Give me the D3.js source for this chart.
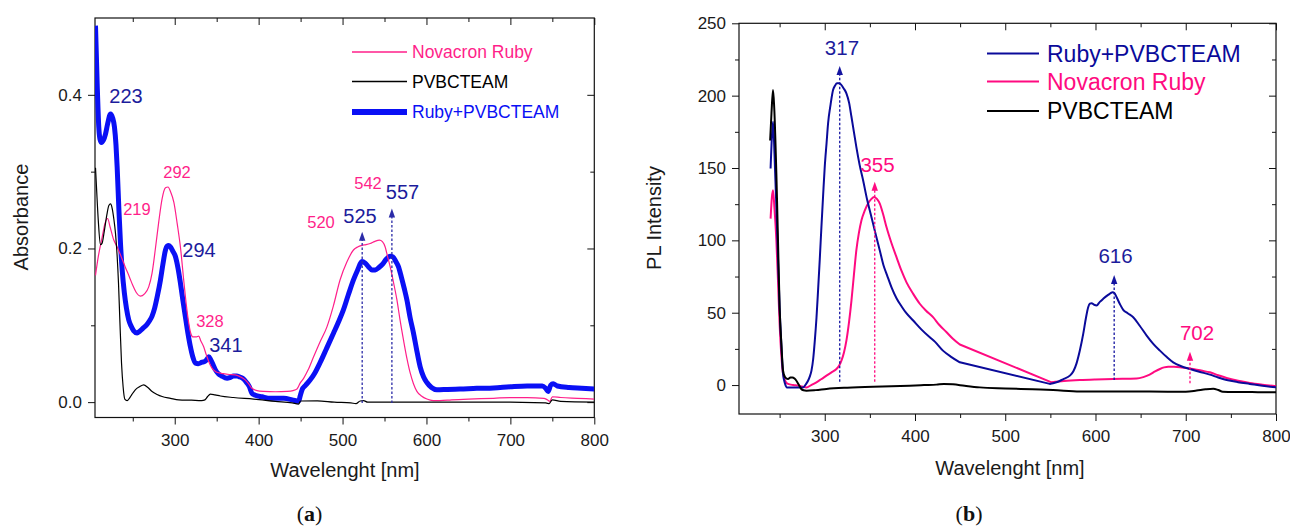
<!DOCTYPE html>
<html>
<head>
<meta charset="utf-8">
<script src="https://cdn.jsdelivr.net/npm/d3@7/dist/d3.min.js"></script>
<style>
  body { margin: 0; background: #fff; }
  svg { display: block; }
  text { font-family: "Liberation Sans", Arial, sans-serif; }
</style>
</head>
<body>
<svg id="chart" width="1290" height="528"></svg>
<script>
const svg = d3.select("#chart")

// ---- data: [wavelength nm, value] ----
// (a) absorbance
const absRuby = [[205.6,0.165],[209,0.19],[213.6,0.215],[217,0.233],[220,0.239],[223,0.228],[227.4,0.211],[231.4,0.202],[236,0.19],[241,0.176],[246,0.163],[250,0.152],[254,0.143],[259,0.138],[264,0.141],[269,0.15],[273,0.168],[277,0.2],[281,0.235],[285,0.265],[289,0.279],[292,0.28],[295,0.274],[299,0.26],[303,0.232],[307,0.2],[310.7,0.159],[314,0.125],[316.7,0.103],[319,0.09],[321.5,0.085],[326,0.085],[328.6,0.086],[331,0.08],[334.5,0.072],[337.5,0.062],[340.5,0.053],[344,0.045],[348.5,0.04],[353,0.038],[358,0.037],[365,0.036],[372,0.0355],[378,0.033],[384,0.029],[388,0.024],[392,0.018],[398,0.015],[406,0.014],[420,0.0135],[434,0.014],[441,0.015],[445.7,0.017],[449.6,0.025],[453.6,0.031],[459,0.042],[465.5,0.059],[473,0.078],[481.4,0.098],[489,0.125],[497,0.159],[505,0.182],[513,0.198],[518,0.202],[523,0.204],[528,0.205],[533,0.2065],[538,0.209],[544,0.211],[547.5,0.209],[550.8,0.202],[553.5,0.19],[556.8,0.176],[560.5,0.157],[564.8,0.133],[568.5,0.107],[572.6,0.081],[576.5,0.058],[580.6,0.038],[584.5,0.024],[588.6,0.014],[594,0.008],[600.5,0.004],[608,0.002],[616,0.002],[630,0.003],[650,0.004],[680,0.005],[700,0.006],[720,0.006],[740,0.005],[744,0.003],[747,0.001],[750,0.007],[760,0.006],[780,0.005],[800,0.004]]
const absPvb = [[205.6,0.305],[207,0.275],[209,0.235],[211.5,0.205],[213.5,0.207],[216,0.222],[219,0.243],[221.5,0.256],[223.5,0.258],[225.5,0.252],[227.5,0.238],[229.4,0.22],[231.4,0.19],[233,0.155],[234.5,0.11],[236.6,0.051],[238.5,0.02],[240.5,0.004],[243.3,0.002],[246,0.005],[249,0.01],[253,0.016],[258,0.02],[263,0.0225],[268,0.019],[273,0.0138],[279,0.01],[285,0.0073],[295,0.005],[304.8,0.003],[320,0.0025],[332,0.002],[336,0.003],[339,0.007],[342.5,0.0105],[348,0.0095],[354.4,0.008],[370,0.006],[394,0.004],[420,0.001],[440,-0.001],[447.6,-0.0026],[450,0.0015],[470,0.0017],[490,0.0],[510,-0.001],[516,-0.002],[521,0.0015],[525,0.002],[530,0.0],[560,0.0],[600,0.0],[650,0.0],[700,0.0],[742,-0.001],[746,-0.002],[750,0.003],[760,0.001],[800,0.0]]
const absMix = [[205.6,0.49],[207.6,0.414],[209.5,0.358],[211,0.342],[212.7,0.338],[215,0.341],[217.5,0.349],[220,0.362],[223.5,0.375],[226,0.37],[228.2,0.358],[230,0.335],[231.4,0.306],[233.5,0.25],[235.4,0.206],[237.4,0.172],[240,0.142],[242.5,0.122],[245.2,0.107],[248,0.099],[251,0.093],[255.2,0.09],[258,0.092],[262,0.096],[266,0.1],[270,0.106],[273,0.112],[276,0.122],[279.5,0.139],[283,0.159],[286,0.18],[289,0.198],[291,0.203],[293,0.204],[295.5,0.201],[298,0.196],[301,0.189],[304,0.174],[306.8,0.155],[309.8,0.132],[312.7,0.111],[315.7,0.09],[318.7,0.072],[321.5,0.059],[324.6,0.051],[328,0.05],[332.6,0.052],[336,0.053],[338.5,0.056],[340.5,0.059],[343,0.055],[346,0.048],[348.5,0.042],[352,0.037],[356,0.034],[362.4,0.031],[366,0.032],[370,0.034],[374,0.034],[377,0.033],[381,0.031],[386,0.025],[389,0.02],[392,0.0115],[396,0.009],[404,0.007],[414,0.005],[430,0.005],[440,0.003],[447.6,0.001],[449.5,0.008],[451.7,0.016],[456,0.022],[461.5,0.029],[467,0.038],[473.5,0.052],[481,0.07],[489.3,0.09],[495,0.104],[501,0.12],[507,0.14],[513,0.159],[518,0.172],[523,0.183],[527,0.181],[531,0.176],[535,0.172],[539,0.172],[543,0.175],[548,0.18],[552,0.186],[556.8,0.19],[560,0.189],[563.5,0.183],[566.7,0.176],[570,0.163],[573.5,0.148],[576.7,0.133],[580.5,0.11],[584.5,0.09],[588.5,0.067],[592.5,0.046],[596.5,0.033],[600.5,0.0255],[606,0.019],[612.4,0.016],[625,0.0165],[640,0.017],[660,0.018],[680,0.0185],[700,0.02],[720,0.021],[738,0.021],[742,0.018],[745,0.014],[748,0.022],[751,0.024],[756,0.021],[770,0.019],[785,0.018],[800,0.017]]

// (b) photoluminescence
const plMix = [[240,149.6],[241.5,172],[242.7,182],[244.3,160],[246.4,123],[248.2,88],[250,53.8],[252,27],[253.8,7.7],[256,1],[258.2,-1.6],[266,-1.6],[276,-1.6],[279,0.5],[281.5,3],[283.5,6],[285.3,10],[287.2,18],[289,30.7],[290.8,46],[292.6,65.4],[294.5,87],[296.3,109],[298.2,131],[300,150.8],[302,167],[303.7,180.8],[306.5,194],[309.2,203.9],[311.5,207],[313.6,208.5],[316,208.5],[318.5,207.3],[321,205],[324,201.6],[327,195],[329.6,185.4],[332.3,175],[335,164.6],[338.7,152],[342.5,141.5],[347,128],[351.8,116],[356.5,104],[361,93],[365,83],[369,76],[374,67.5],[379.5,60],[385,54.5],[390,50],[398,44.6],[407,38.5],[416.4,33],[422,30],[431,23.8],[440,19.5],[449.7,15.7],[549.4,0.8],[553,1.2],[556.8,1.9],[564,4],[571.6,6.5],[575.5,9.5],[579,15],[582.7,24],[586.4,35.4],[589.3,46],[591.9,53.8],[593.8,56.3],[595.7,56.6],[598.5,55.5],[601.2,55],[604.8,57.5],[608.5,59.6],[614,62.3],[618.9,64.2],[621,63.5],[623.4,60.7],[627,56],[630.7,52],[636,49.5],[641.8,46.9],[649,41],[656.7,34.2],[664,28.5],[671.4,23.8],[678.7,19.5],[686.1,15.7],[695,13],[704.7,11.1],[715,9.2],[726.8,7.2],[736,5.2],[745.3,3.5],[758,2],[771,0.8],[785,-0.5],[800,-1.6]]
const plRuby = [[240,115],[241.5,130],[242.7,134.6],[244.3,122],[246.4,100],[248.2,72],[250,42.3],[252,20],[253.8,7.7],[256.5,2.5],[259.3,0.8],[265,0],[270.4,-0.4],[275,-1],[279.7,-1.6],[285,0],[290.8,1.9],[296,4],[301.9,6.5],[307.5,8.8],[313,11.1],[316,13.5],[318.5,16.9],[321.3,22.5],[324,30.7],[326.8,43],[329.6,58.4],[332.3,76],[335,93],[337.8,105],[340.7,113.9],[344.3,120.5],[348,125.4],[351.5,128.5],[354.7,130],[358,128.5],[361,125.4],[364.7,118],[368.4,109.2],[374,98],[379.5,88.4],[385,79],[390.6,71],[398,63],[405.3,56.2],[412,51.5],[420,46.9],[427,41.5],[435,36.5],[442,32],[449.7,28],[551.3,1.9],[565,2.8],[582.7,3.5],[600,3.9],[619.6,4.2],[645.6,4.5],[653,5.5],[660,7.2],[666,9.4],[671.4,11.1],[676,12.2],[680.6,12.7],[687,12.6],[693.6,12.3],[700,11.8],[708.3,11.1],[717,10],[726.8,8.8],[736,6.8],[745.3,4.9],[758,3],[771,1.5],[785,0.3],[800,-0.8]]
const plPvb = [[239.5,169],[241,188],[242.7,203.9],[244,192],[246.4,146],[248.2,100],[250,53.8],[252,28],[253.8,10],[256,5.5],[259.3,4.2],[262,5.2],[264.2,5.3],[266.5,4.5],[268.6,3],[271,0.5],[274,-2.7],[276.5,-3.6],[279.7,-3.9],[290,-3.5],[301.9,-2.7],[325,-1.8],[353.6,-1.1],[394,-0.4],[410,0],[423.8,0.3],[432,0.8],[442,0.5],[455,-0.5],[471.8,-1.6],[500,-2.3],[530,-2.9],[553,-3.4],[582.7,-4.4],[620,-4.5],[660,-4.5],[700,-4.6],[712,-3.8],[722,-2.9],[730.5,-2.5],[736,-3.4],[741,-4.6],[760,-4.8],[780,-4.9],[800,-5]]

// ticks
const xMajor = [300, 400, 500, 600, 700, 800]
const xMinor = [250, 350, 450, 550, 650, 750]
const absMajor = [0, 0.2, 0.4]
const absMinor = [0.1, 0.3]
const plMajor = [0, 50, 100, 150, 200, 250]
const plMinor = [25, 75, 125, 175, 225]

// peak labels: [text, nm, value] (text centre, baseline)
const absLabelsRuby = [["219",255,0.2436],["292",302.7,0.2917],["328",342,0.098],["520",474.3,0.2266],["542",530.3,0.277]]
const absLabelsMix = [["223",241.9,0.389],["294",328.9,0.189],["341",361,0.0656],["525",520.8,0.2335],["557",571.4,0.264]]
const plLabelsMix = [["317",319.1,228.1],["616",622.2,84.4]]
const plLabelsRuby = [["355",358.5,147.4],["702",712.5,31.1]]
// dotted arrows: [nm, tip, base]
const absArrows = [[523.4,0.2218,-0.001],[558.8,0.252,-0.001]]
const plArrowsMix = [[316.6,220.5,2.3],[620.7,76.1,3.5]]
const plArrowsRuby = [[355.4,140.5,2.3],[704.7,23,1.2]]

const pink = "#ff1f8a", pinkB = "#ff0a80", blue = "#0a10f5", navy = "#0a0a9a", navyText = "#1c1c9c"

// scales
const xA = d3.scaleLinear().domain([205, 800]).range([95, 594.3])
const yA = d3.scaleLinear().domain([-0.02, 0.5]).range([417.5, 18])
const xB = d3.scaleLinear().domain([205, 800]).range([739, 1276])
const yB = d3.scaleLinear().domain([-20, 250]).range([414, 23.3])

function drawAxes(x, y, yMajor, yMinor, yFmt, id) {
  const [l, r] = x.range(), [b, t] = y.range()
  const put = (axis, tx, ty, vals, size, pad, fmt) => {
    const g = svg.append("g").attr("transform", `translate(${tx},${ty})`)
      .call(axis.tickValues(vals).tickSize(size).tickPadding(pad).tickFormat(fmt || (() => "")))
    g.select(".domain").remove()
    g.attr("font-family", null).attr("font-size", 17)
    g.selectAll("line").attr("stroke", "#111")
    g.selectAll("text").attr("fill", "#1a1a1a")
  }
  put(d3.axisBottom(x), 0, b, xMajor, 7, 9, d3.format("d"))
  put(d3.axisBottom(x), 0, b, xMinor, 4, 0)
  put(d3.axisTop(x), 0, t, xMajor, -7, 0)
  put(d3.axisTop(x), 0, t, xMinor, -4, 0)
  put(d3.axisLeft(y), l, 0, yMajor, 7, 6, yFmt)
  put(d3.axisLeft(y), l, 0, yMinor, 4, 0)
  put(d3.axisRight(y), r, 0, yMajor, -7, 0)
  put(d3.axisRight(y), r, 0, yMinor, -4, 0)
  svg.append("rect").attr("x", l).attr("y", t).attr("width", r - l).attr("height", b - t)
    .attr("fill", "none").attr("stroke", "#111").attr("stroke-width", 1.2)
  svg.append("clipPath").attr("id", id).append("rect")
    .attr("x", l).attr("y", t).attr("width", r - l).attr("height", b - t)
}

// smooth through measured points, but keep long gaps in the spectrum as straight joins
function drawCurve(data, x, y, color, width, clip) {
  let runs = [[data[0]]]
  for (let i = 1; i < data.length; i++) {
    if (data[i][0] - data[i - 1][0] > 40) {
      runs.push([data[i - 1], data[i]])
      runs.push([data[i]])
    } else {
      runs[runs.length - 1].push(data[i])
    }
  }
  runs = runs.filter(r => r.length > 1)
  const smooth = d3.line().x(d => x(d[0])).y(d => y(d[1])).curve(d3.curveMonotoneX)
  const straight = d3.line().x(d => x(d[0])).y(d => y(d[1]))
  const d = runs.map(run => run.length == 2 ? straight(run) : smooth(run))
    .map((s, i) => i ? "L" + s.slice(1) : s).join("")
  svg.append("path")
    .attr("clip-path", `url(#${clip})`)
    .attr("fill", "none").attr("stroke", color).attr("stroke-width", width)
    .attr("stroke-linejoin", "round")
    .attr("d", d)
}

function drawLabels(list, x, y, color, size) {
  svg.append("g").selectAll("text").data(list).join("text")
    .attr("x", d => x(d[1])).attr("y", d => y(d[2]))
    .attr("text-anchor", "middle").attr("font-size", size).attr("fill", color)
    .text(d => d[0])
}

function drawArrows(list, x, y, color) {
  const g = svg.append("g")
  list.forEach(([nm, tip, base]) => {
    const cx = x(nm), yt = y(tip)
    g.append("line").attr("x1", cx).attr("x2", cx).attr("y1", y(base)).attr("y2", yt + 6)
      .attr("stroke", color).attr("stroke-width", 1.3).attr("stroke-dasharray", "2.5,2")
    g.append("path").attr("d", `M${cx},${yt}L${cx - 3.2},${yt + 9}L${cx + 3.2},${yt + 9}Z`).attr("fill", color)
  })
}

function drawLegend(items, x0, x1, tx, rows, size) {
  items.forEach(([name, color, w], i) => {
    svg.append("line").attr("x1", x0).attr("x2", x1).attr("y1", rows[i]).attr("y2", rows[i])
      .attr("stroke", color).attr("stroke-width", w)
    svg.append("text").attr("x", tx).attr("y", rows[i] + size * 0.36)
      .attr("font-size", size).attr("fill", color).text(name)
  })
}

// ---- (a) absorbance ----
drawAxes(xA, yA, absMajor, absMinor, d3.format(".1f"), "clipA")
drawCurve(absMix, xA, yA, blue, 5, "clipA")
drawCurve(absRuby, xA, yA, pink, 1.2, "clipA")
drawCurve(absPvb, xA, yA, "#000", 1.2, "clipA")
drawArrows(absArrows, xA, yA, "#2b2ba8")
drawLabels(absLabelsRuby, xA, yA, pink, 16.5)
drawLabels(absLabelsMix, xA, yA, navyText, 20)
drawLegend([["Novacron Ruby", pink, 1.3], ["PVBCTEAM", "#000", 1.3], ["Ruby+PVBCTEAM", blue, 6]],
  352, 407, 412, [52, 81.5, 112], 17.5)
svg.append("text").attr("x", 345).attr("y", 477).attr("text-anchor", "middle")
  .attr("font-size", 20).attr("fill", "#1a1a1a").text("Wavelenght [nm]")
svg.append("text").attr("transform", "translate(28,217) rotate(-90)").attr("text-anchor", "middle")
  .attr("font-size", 20).attr("fill", "#1a1a1a").text("Absorbance")

// ---- (b) photoluminescence ----
drawAxes(xB, yB, plMajor, plMinor, d3.format("d"), "clipB")
drawCurve(plRuby, xB, yB, pinkB, 2, "clipB")
drawCurve(plMix, xB, yB, navy, 2, "clipB")
drawCurve(plPvb, xB, yB, "#000", 2, "clipB")
drawArrows(plArrowsMix, xB, yB, "#1414a0")
drawArrows(plArrowsRuby, xB, yB, pinkB)
drawLabels(plLabelsMix, xB, yB, navyText, 20.5)
drawLabels(plLabelsRuby, xB, yB, pinkB, 20.5)
drawLegend([["Ruby+PVBCTEAM", navy, 2], ["Novacron Ruby", pinkB, 2], ["PVBCTEAM", "#000", 2]],
  987, 1039, 1047, [53.5, 81.5, 111], 23)
svg.append("text").attr("x", 1010).attr("y", 475).attr("text-anchor", "middle")
  .attr("font-size", 20).attr("fill", "#1a1a1a").text("Wavelenght [nm]")
svg.append("text").attr("transform", "translate(661,218) rotate(-90)").attr("text-anchor", "middle")
  .attr("font-size", 20).attr("fill", "#1a1a1a").text("PL Intensity")

// captions
;[["a", 309.5], ["b", 969]].forEach(([c, cx]) => {
  const t = svg.append("text").attr("x", cx).attr("y", 521).attr("text-anchor", "middle")
    .attr("font-size", 22).attr("fill", "#111").style("font-family", "'Liberation Serif', 'Times New Roman', serif")
  t.append("tspan").text("(")
  t.append("tspan").attr("font-weight", "bold").text(c)
  t.append("tspan").text(")")
})
</script>
</body>
</html>
